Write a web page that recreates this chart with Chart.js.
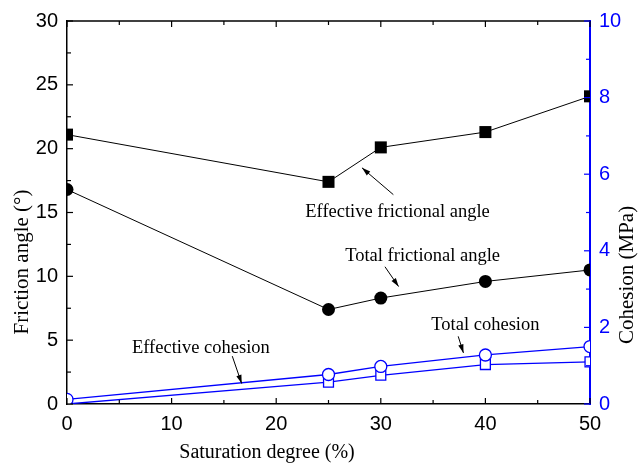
<!DOCTYPE html>
<html>
<head>
<meta charset="utf-8">
<script src="https://cdn.jsdelivr.net/npm/chart.js@4.4.0/dist/chart.umd.min.js"></script>
<style>
  html, body { margin: 0; padding: 0; background: #fff; }
  #wrap { width: 641px; height: 472px; }
</style>
</head>
<body>
<div id="wrap"><canvas id="c" width="641" height="472"></canvas></div>
<script>
  // data
  const saturation = [0, 25, 30, 40, 50];
  const effFriction = [21.1, 17.4, 20.1, 21.3, 24.1];
  const totFriction = [16.8, 7.4, 8.3, 9.6, 10.5];
  const totCohesion = [0.12, 0.77, 0.98, 1.28, 1.5];
  const effCohesion = [0.0, 0.57, 0.75, 1.03, 1.1];

  const xTicks = [0, 10, 20, 30, 40, 50];
  const yTicks = [0, 5, 10, 15, 20, 25, 30];
  const y1Ticks = [0, 2, 4, 6, 8, 10];

  // annotation labels: [text, x, y(left axis), arrow from x,y, arrow to x,y]
  const notes = [
    ['Effective frictional angle', 31.6, 15.0, 31.2, 16.4, 28.2, 18.5],
    ['Total frictional angle', 34.0, 11.6, 30.4, 10.75, 31.7, 9.2],
    ['Total cohesion', 40.0, 6.15, 37.4, 5.3, 37.9, 4.0],
    ['Effective cohesion', 12.8, 4.4, 15.8, 3.75, 16.7, 1.6]
  ];

  const pts = ys => saturation.map((x, i) => ({x: x, y: ys[i]}));
  const blue = '#0000ff';
  const serif = '"Liberation Serif", "Times New Roman", serif';

  const decor = {
    id: 'decor',
    afterDatasetsDraw(chart) {
      const ctx = chart.ctx;
      const a = chart.chartArea;
      const sx = chart.scales.x, sy = chart.scales.y, sy1 = chart.scales.y1;
      ctx.save();
      // top frame
      ctx.strokeStyle = '#000';
      ctx.lineWidth = 1.5;
      ctx.beginPath(); ctx.moveTo(a.left, a.top); ctx.lineTo(a.right, a.top); ctx.stroke();
      // inward ticks
      ctx.lineWidth = 1.2;
      for (let v = 0; v <= 50; v += 5) {
        const px = sx.getPixelForValue(v);
        const len = v % 10 === 0 ? 6 : 4;
        ctx.beginPath();
        ctx.moveTo(px, a.bottom); ctx.lineTo(px, a.bottom - len);
        ctx.moveTo(px, a.top); ctx.lineTo(px, a.top + len);
        ctx.stroke();
      }
      for (let v = 0; v <= 30; v += 2.5) {
        const py = sy.getPixelForValue(v);
        const len = v % 5 === 0 ? 6 : 4;
        ctx.beginPath(); ctx.moveTo(a.left, py); ctx.lineTo(a.left + len, py); ctx.stroke();
      }
      ctx.strokeStyle = blue;
      for (let v = 0; v <= 10; v += 1) {
        const py = sy1.getPixelForValue(v);
        const len = v % 2 === 0 ? 6 : 4;
        ctx.beginPath(); ctx.moveTo(a.right, py); ctx.lineTo(a.right - len, py); ctx.stroke();
      }
      // axis titles
      ctx.fillStyle = '#000';
      ctx.font = '20px ' + serif;
      ctx.textAlign = 'center';
      ctx.textBaseline = 'middle';
      ctx.fillText('Saturation degree (%)', 267, 453);
      ctx.font = '21px ' + serif;
      ctx.save();
      ctx.translate(22, 262); ctx.rotate(-Math.PI / 2);
      ctx.fillText('Friction angle (\u00b0)', 0, 0);
      ctx.restore();
      ctx.save();
      ctx.translate(627, 275); ctx.rotate(-Math.PI / 2);
      ctx.fillText('Cohesion (MPa)', 0, 0);
      ctx.restore();
      // annotations with arrows
      ctx.font = '18.5px ' + serif;
      notes.forEach(n => {
        ctx.fillStyle = '#000';
        ctx.fillText(n[0], sx.getPixelForValue(n[1]), sy.getPixelForValue(n[2]));
        const x0 = sx.getPixelForValue(n[3]), y0 = sy.getPixelForValue(n[4]);
        const x1 = sx.getPixelForValue(n[5]), y1 = sy.getPixelForValue(n[6]);
        const ang = Math.atan2(y1 - y0, x1 - x0);
        ctx.strokeStyle = '#000';
        ctx.lineWidth = 1;
        ctx.beginPath(); ctx.moveTo(x0, y0); ctx.lineTo(x1, y1); ctx.stroke();
        ctx.beginPath();
        ctx.moveTo(x1, y1);
        ctx.lineTo(x1 - 9 * Math.cos(ang - 0.3), y1 - 9 * Math.sin(ang - 0.3));
        ctx.lineTo(x1 - 9 * Math.cos(ang + 0.3), y1 - 9 * Math.sin(ang + 0.3));
        ctx.closePath(); ctx.fill();
      });
      ctx.restore();
    }
  };

  const tickFont = {family: '"Liberation Sans", Arial, sans-serif', size: 20};

  new Chart(document.getElementById('c'), {
    type: 'scatter',
    data: {
      datasets: [
        {
          label: 'Effective frictional angle', data: pts(effFriction), yAxisID: 'y',
          showLine: true, borderColor: '#000', borderWidth: 1, backgroundColor: '#000',
          pointStyle: 'rect', pointRadius: 8.5, pointBorderWidth: 0, clip: 0
        },
        {
          label: 'Total frictional angle', data: pts(totFriction), yAxisID: 'y',
          showLine: true, borderColor: '#000', borderWidth: 1, backgroundColor: '#000',
          pointStyle: 'circle', pointRadius: 6.5, pointBorderWidth: 0, clip: 0
        },
        {
          label: 'Total cohesion', data: pts(totCohesion), yAxisID: 'y1',
          showLine: true, borderColor: blue, borderWidth: 1.3, backgroundColor: '#fff',
          pointStyle: 'circle', pointRadius: 6, pointBorderWidth: 1.3, pointBorderColor: blue, clip: 0
        },
        {
          label: 'Effective cohesion', data: pts(effCohesion), yAxisID: 'y1',
          showLine: true, borderColor: blue, borderWidth: 1.3, backgroundColor: '#fff',
          pointStyle: 'rect', pointRadius: 7, pointBorderWidth: 1.3, pointBorderColor: blue, clip: 0
        }
      ]
    },
    options: {
      responsive: false,
      animation: false,
      layout: {padding: {top: 16, left: 0, right: 0, bottom: 0}},
      plugins: {legend: {display: false}, tooltip: {enabled: false}},
      scales: {
        x: {
          type: 'linear', min: 0, max: 50,
          afterFit: s => { s.height = 68; },
          afterBuildTicks: s => { s.ticks = xTicks.map(v => ({value: v})); },
          grid: {display: false, drawTicks: false},
          border: {display: true, color: '#000', width: 1.5},
          ticks: {color: '#000', font: tickFont, padding: 8, maxRotation: 0}
        },
        y: {
          type: 'linear', position: 'left', min: 0, max: 30,
          afterFit: s => { s.width = 67; },
          afterBuildTicks: s => { s.ticks = yTicks.map(v => ({value: v})); },
          grid: {display: false, drawTicks: false},
          border: {display: true, color: '#000', width: 1.5},
          ticks: {color: '#000', font: tickFont, padding: 9}
        },
        y1: {
          type: 'linear', position: 'right', min: 0, max: 10,
          afterFit: s => { s.width = 51; },
          afterBuildTicks: s => { s.ticks = y1Ticks.map(v => ({value: v})); },
          grid: {display: false, drawTicks: false},
          border: {display: true, color: blue, width: 2},
          ticks: {color: blue, font: tickFont, padding: 9}
        }
      }
    },
    plugins: [decor]
  });
</script>
</body>
</html>
